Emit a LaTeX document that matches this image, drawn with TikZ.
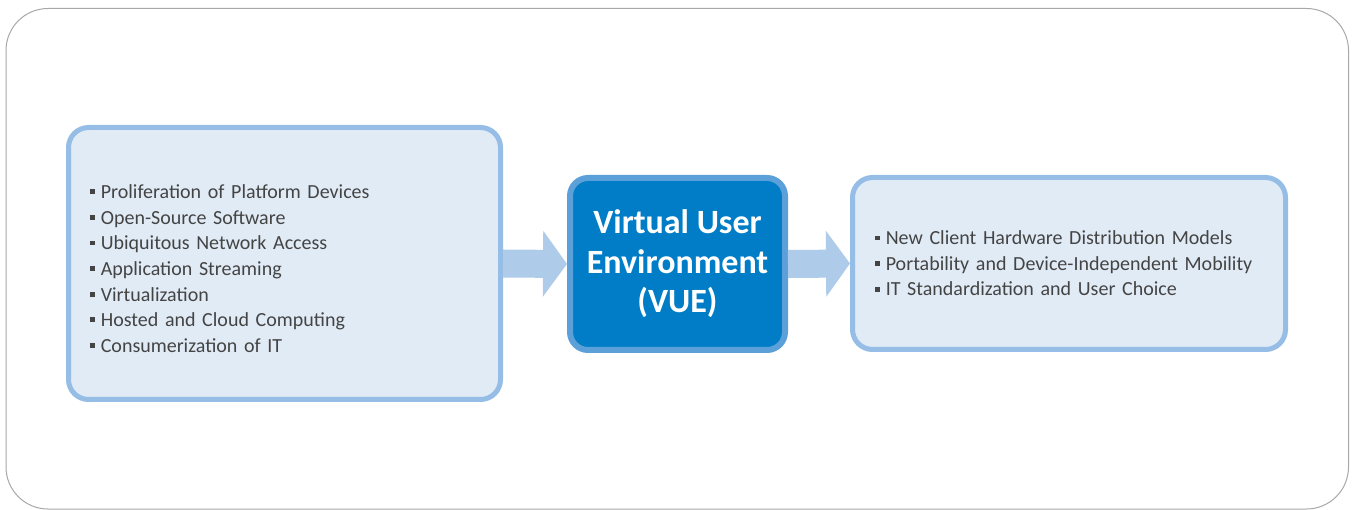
\documentclass[tikz,border=0pt]{standalone}
\usepackage{fontspec}
\setmainfont{Carlito}
\usepackage{xcolor}
\usetikzlibrary{arrows.meta}

\definecolor{frameGray}{HTML}{A8A8A8}
\definecolor{paleFill}{HTML}{E1EBF6}
\definecolor{paleEdge}{HTML}{95BDE5}
\definecolor{arrowBlue}{HTML}{AFCBEA}
\definecolor{vueFill}{HTML}{007DC6}
\definecolor{vueEdge}{HTML}{5BA0D8}
\definecolor{listText}{HTML}{444444}

\newcommand{\sqbul}{\raisebox{0.22em}{\rule{0.24em}{0.24em}}\hspace{0.3em}}

\tikzset{
	listbox/.style={draw=paleEdge, fill=paleFill, line width=5pt, rounded corners=20pt,
		minimum height=272pt, inner xsep=21.5pt, text width=389pt, align=left,
		text=listText, font=\fontsize{20}{25.6}\selectfont},
	vuebox/.style={draw=vueEdge, fill=vueFill, line width=6pt, rounded corners=18pt,
		minimum width=215pt, minimum height=172pt, align=center, text=white,
		font=\fontsize{34}{39.5}\selectfont\bfseries},
	fatarrow/.style={draw=arrowBlue, line width=28pt, -{Triangle[width=65pt,length=24pt]}}
}

\begin{document}
\begin{tikzpicture}[x=1pt,y=-1pt]
\useasboundingbox (0,0) rectangle (1355,510);
\draw[frameGray, line width=1pt, rounded corners=42pt] (6,8.5) rectangle (1348.5,509);

\node[vuebox] (vue) at (677.5,264) {Virtual User\\Environment\\(VUE)};
\node[listbox] (causes) at (284.5,263.5) {%
	\rule{0pt}{24pt}\sqbul Proliferation of Platform Devices\\
	\sqbul Open-Source Software\\
	\sqbul Ubiquitous Network Access\\
	\sqbul Application Streaming\\
	\sqbul Virtualization\\
	\sqbul Hosted and Cloud Computing\\
	\sqbul Consumerization of IT};
\node[listbox, inner xsep=22.5pt, text width=388pt, minimum height=172pt] (results) at (1069,263.5) {%
	\sqbul New Client Hardware Distribution Models\\
	\sqbul Portability and Device-Independent Mobility\\
	\sqbul IT Standardization and User Choice};

\draw[fatarrow] (causes.east) -- (vue.west);
\draw[fatarrow] (vue.east) -- (results.west);
\end{tikzpicture}
\end{document}
